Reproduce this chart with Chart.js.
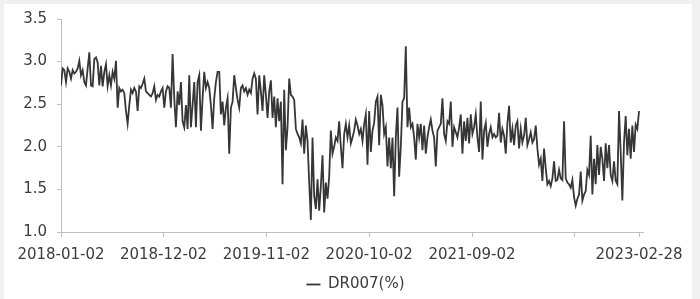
<!DOCTYPE html>
<html>
<head>
<meta charset="utf-8">
<script src="https://cdn.jsdelivr.net/npm/chart.js@4.4.1/dist/chart.umd.min.js"></script>
<style>
  html, body { margin: 0; overflow: hidden; background: #f0f0f0; }
  #box { position: absolute; left: 4px; top: 4px; width: 688px; height: 295px; background: #fff; }
  #chart { position: absolute; left: 0; top: 0; }
</style>
</head>
<body>
<div id="box"></div>
<canvas id="chart" width="700" height="302"></canvas>
<script>
    // DR007 (%), evenly spaced from first to last date
    const startDate = '2018-01-02';
    const endDate = '2023-02-28';

    const dr007Part1 = [
        2.72, 2.92, 2.90, 2.76, 2.92, 2.88, 2.80, 2.90, 2.86, 2.88,
        2.92, 3.01, 2.84, 2.90, 2.76, 2.72, 2.92, 3.11, 2.72, 2.71,
        3.03, 3.05, 2.99, 2.72, 2.95, 2.71, 2.88, 2.97, 2.71, 2.84,
        2.72, 2.88, 2.80, 3.01, 2.46, 2.69, 2.65, 2.67, 2.63, 2.42,
        2.27, 2.49, 2.67, 2.63, 2.69, 2.65, 2.42, 2.71, 2.69, 2.74,
        2.80, 2.65, 2.63, 2.61, 2.59, 2.63, 2.71, 2.55, 2.61, 2.59,
        2.65, 2.69, 2.46, 2.65, 2.71, 2.69, 2.46, 3.09, 2.57, 2.23,
        2.65, 2.49, 2.76, 2.30, 2.23, 2.49, 2.21, 2.84, 2.23, 2.49,
        2.76, 2.23, 2.76, 2.84, 2.19, 2.57, 2.88, 2.69
    ];
    const dr007Part2 = [
        2.76, 2.69, 2.49, 2.21, 2.57, 2.76, 2.88, 2.88, 2.38, 2.53,
        2.25, 2.46, 2.57, 1.92, 2.46, 2.53, 2.84, 2.69, 2.55, 2.46,
        2.69, 2.72, 2.65, 2.69, 2.61, 2.67, 2.63, 2.80, 2.86, 2.80,
        2.38, 2.84, 2.65, 2.42, 2.84, 2.61, 2.34, 2.65, 2.78, 2.34,
        2.59, 2.23, 2.57, 2.30, 2.53, 1.56, 2.67, 1.96, 2.23, 2.80,
        2.61, 2.59, 2.55, 2.21, 2.15, 2.11, 2.04, 2.32, 1.92, 2.25,
        2.07, 1.58, 1.14, 2.11, 1.42, 1.27, 1.62, 1.25, 1.54, 1.90,
        1.23, 1.58, 1.39, 1.65, 2.19, 1.92, 2.00, 2.11, 2.07, 2.30,
        2.00, 1.75, 2.15, 2.27, 2.11, 2.25, 2.04
    ];
    const dr007Part3 = [
        2.11, 2.19, 2.32, 2.25, 2.15, 2.21, 2.07, 2.27, 2.38, 1.79,
        2.42, 1.94, 2.19, 2.28, 2.53, 2.59, 2.02, 2.61, 2.49, 2.15,
        2.23, 1.77, 2.11, 1.75, 2.11, 1.42, 2.11, 2.46, 1.65, 2.00,
        2.53, 2.57, 3.18, 2.23, 2.46, 2.23, 2.27, 2.11, 1.85, 2.27,
        2.11, 2.27, 1.96, 2.25, 1.92, 2.11, 2.23, 2.32, 2.19, 2.11,
        1.77, 2.19, 2.23, 2.27, 2.57, 2.15, 2.07, 2.30, 2.27, 2.53,
        2.00, 2.23, 2.17, 2.11, 2.23, 2.38, 1.92, 2.30, 2.07, 2.34,
        2.04, 2.38, 2.15, 2.23, 2.38, 2.11, 1.94, 2.53, 1.85, 2.19,
        2.28, 2.00, 2.15, 2.23, 2.11, 2.15, 2.11
    ];
    const dr007Part4 = [
        2.13, 2.40, 2.05, 2.21, 2.13, 1.92, 2.28, 2.48, 2.05, 2.21,
        2.02, 2.25, 2.30, 1.98, 2.21, 2.05, 2.13, 2.34, 2.02, 2.09,
        2.17, 2.05, 2.09, 2.25, 1.98, 1.79, 1.86, 1.60, 1.98, 1.75,
        1.56, 1.60, 1.54, 1.63, 1.83, 1.60, 1.61, 1.73, 1.63, 1.61,
        2.30, 1.63, 1.58, 1.56, 1.52, 1.61, 1.41, 1.31, 1.39, 1.44,
        1.71, 1.37, 1.44, 1.48, 1.73, 1.67, 2.13, 1.44, 1.86, 1.56,
        2.02, 1.67, 2.00, 1.86, 1.60, 2.04, 1.75, 2.02, 1.67, 1.60,
        1.83, 1.60, 1.56, 2.42, 1.94, 1.37, 2.05, 2.36, 1.90, 2.21,
        1.86, 2.25, 1.94, 2.26, 2.21, 2.42
    ];

    // x-axis ticks (the 2022-08-02 tick has no label in the original)
    const tickDates = ['2018-01-02', '2018-12-02', '2019-11-02', '2020-10-02', '2021-09-02', '2022-08-02', '2023-02-28'];
    const tickLabels = ['2018-01-02', '2018-12-02', '2019-11-02', '2020-10-02', '2021-09-02', '', '2023-02-28'];

    // y-axis
    const yMin = 1.0;
    const yMax = 3.5;
    const yStep = 0.5;

    const DAY = 86400000;
    function dayOffset(d) {
        return (Date.parse(d) - Date.parse(startDate)) / DAY;
    }

    const values = dr007Part1.concat(dr007Part2, dr007Part3, dr007Part4);
    const totalDays = dayOffset(endDate);
    const points = values.map((v, i) => ({ x: i * totalDays / (values.length - 1), y: v }));
    const tickDays = tickDates.map(dayOffset);

    const textColor = '#3c3c3c';
    const axisColor = '#bfbfbf';
    const labelFont = { family: 'DejaVu Sans', size: 15 };

    // move the legend to sit under the middle of the white panel
    const legendShift = {
        id: 'legendShift',
        afterLayout(chart) {
            chart.legend.left += 34;
            chart.legend.right += 34;
        }
    };

    new Chart(document.getElementById('chart'), {
        type: 'line',
        data: {
            datasets: [{
                label: 'DR007(%)',
                data: points,
                borderColor: '#363636',
                backgroundColor: '#363636',
                borderWidth: 1.8,
                pointRadius: 0,
                tension: 0,
                fill: false
            }]
        },
        options: {
            responsive: false,
            animation: false,
            layout: { padding: { left: 0, right: 57, top: 14, bottom: 0 } },
            scales: {
                x: {
                    type: 'linear',
                    min: 0,
                    max: 1896,
                    afterBuildTicks: scale => {
                        scale.ticks = tickDays.map(v => ({ value: v }));
                    },
                    afterFit: scale => { scale.height = 35; },
                    ticks: {
                        autoSkip: false,
                        maxRotation: 0,
                        padding: 9,
                        color: textColor,
                        font: labelFont,
                        callback: (value, index) => tickLabels[index]
                    },
                    grid: { drawOnChartArea: false, tickLength: 5, color: axisColor },
                    border: { color: axisColor, width: 1 }
                },
                y: {
                    min: yMin,
                    max: yMax,
                    afterFit: scale => { scale.width = 61; },
                    ticks: {
                        stepSize: yStep,
                        padding: 10,
                        color: textColor,
                        font: labelFont,
                        callback: value => value.toFixed(1)
                    },
                    grid: { drawOnChartArea: false, tickLength: 4, color: axisColor },
                    border: { color: axisColor, width: 1 }
                }
            },
            plugins: {
                legend: {
                    position: 'bottom',
                    labels: {
                        usePointStyle: true,
                        pointStyle: 'line',
                        pointStyleWidth: 14,
                        color: textColor,
                        font: labelFont
                    }
                },
                tooltip: { enabled: false }
            }
        },
        plugins: [legendShift]
    });
</script>
</body>
</html>
